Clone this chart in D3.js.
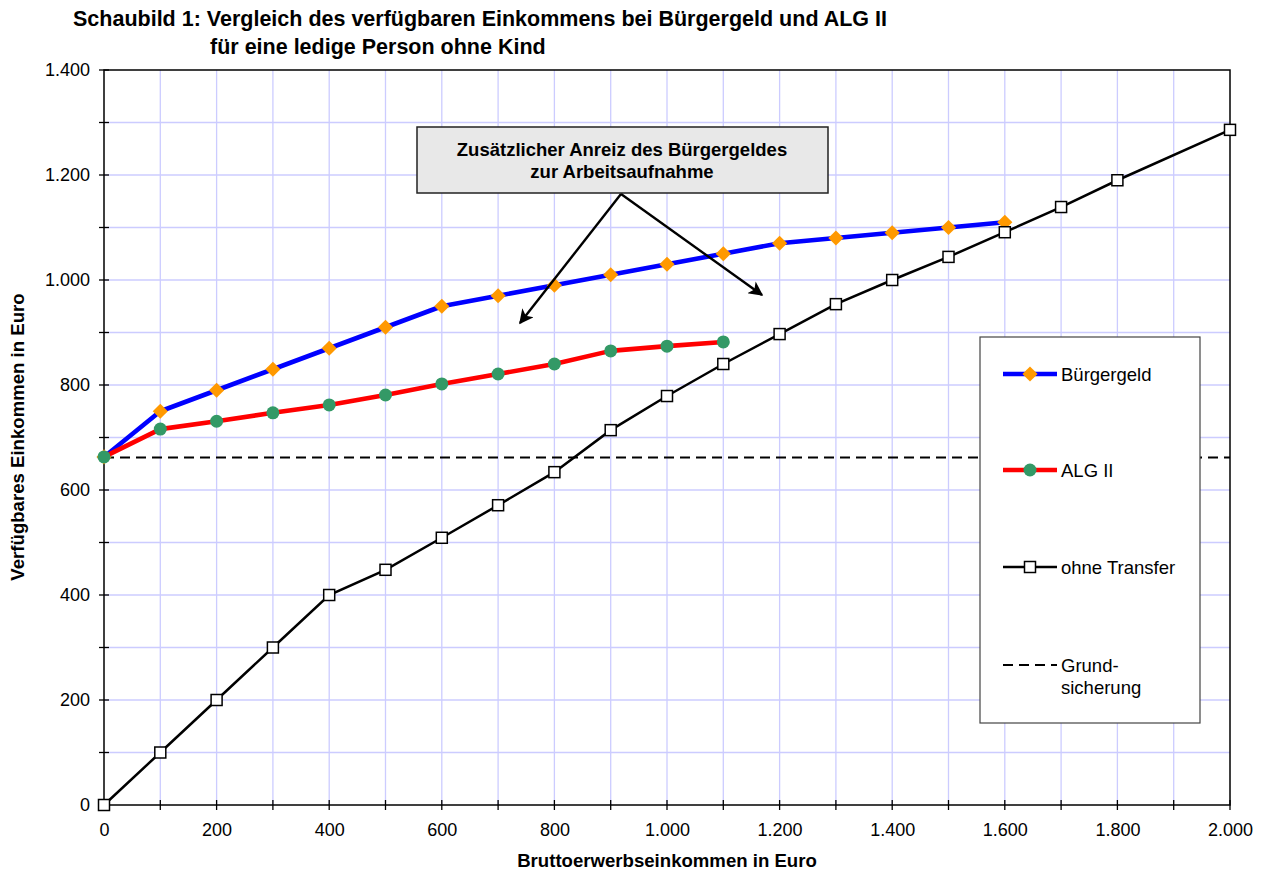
<!DOCTYPE html>
<html>
<head>
<meta charset="utf-8">
<script src="https://cdn.jsdelivr.net/npm/d3@7"></script>
<style>
  body { margin: 0; background: #fff; }
  svg { font-family: "Liberation Sans", Arial, sans-serif; }
</style>
</head>
<body>
<svg width="1266" height="872"></svg>
<script>
// data
const buergergeldX = [0, 100, 200, 300, 400, 500, 600, 700, 800, 900, 1000, 1100, 1200, 1300, 1400, 1500, 1600];
const buergergeldY = [663, 750, 790, 830, 870, 910, 950, 970, 990, 1010, 1030, 1050, 1070, 1080, 1090, 1100, 1110];
const algX = [0, 100, 200, 300, 400, 500, 600, 700, 800, 900, 1000, 1100];
const algY = [663, 716, 731, 747, 762, 781, 802, 821, 840, 865, 874, 882];
const ohneX = [0, 100, 200, 300, 400, 500, 600, 700, 800, 900, 1000, 1100, 1200, 1300, 1400, 1500, 1600, 1700, 1800, 2000];
const ohneY = [0, 100, 200, 300, 400, 448, 509, 571, 634, 714, 779, 840, 897, 954, 1000, 1044, 1091, 1139, 1190, 1286];
const grundsicherung = 662;
const xTicks = [0, 200, 400, 600, 800, 1000, 1200, 1400, 1600, 1800, 2000];
const yTicks = [0, 200, 400, 600, 800, 1000, 1200, 1400];

const svg = d3.select("svg");
const margin = {left: 104, right: 36, top: 70, bottom: 67};
const width = 1266, height = 872;

const de = d3.formatLocale({decimal: ",", thousands: ".", grouping: [3], currency: ["", " €"]});
const fmt = de.format(",d");

const x = d3.scaleLinear().domain([0, 2000]).range([margin.left, width - margin.right]);
const y = d3.scaleLinear().domain([0, 1400]).range([height - margin.bottom, margin.top]);

// gridlines
const grid = svg.append("g").attr("stroke", "#ccccff").attr("stroke-width", 1.3);
grid.selectAll(".gx").data(d3.range(100, 2000, 100)).join("line")
  .attr("x1", d => x(d)).attr("x2", d => x(d))
  .attr("y1", y(0)).attr("y2", y(1400));
grid.selectAll(".gy").data(d3.range(100, 1400, 100)).join("line")
  .attr("x1", x(0)).attr("x2", x(2000))
  .attr("y1", d => y(d)).attr("y2", d => y(d));

// plot frame
svg.append("rect")
  .attr("x", x(0)).attr("y", y(1400))
  .attr("width", x(2000) - x(0)).attr("height", y(0) - y(1400))
  .attr("fill", "none").attr("stroke", "#000").attr("stroke-width", 1.5);

// axes
const yAxis = svg.append("g").attr("transform", `translate(${x(0)},0)`)
  .call(d3.axisLeft(y).tickValues(yTicks).tickFormat(fmt).tickSize(0).tickPadding(14));
yAxis.select(".domain").remove();
yAxis.selectAll("text").attr("font-size", 18).attr("fill", "#000").attr("font-family", "Liberation Sans, Arial, sans-serif");

const xAxis = svg.append("g").attr("transform", `translate(0,${y(0)})`)
  .call(d3.axisBottom(x).tickValues(xTicks).tickFormat(fmt).tickSize(0).tickPadding(18));
xAxis.select(".domain").remove();
xAxis.selectAll("text").attr("font-size", 18).attr("fill", "#000").attr("font-family", "Liberation Sans, Arial, sans-serif");

// tick marks crossing the axes
svg.append("g").selectAll("line").data(d3.range(0, 1401, 100)).join("line")
  .attr("x1", x(0) - 5).attr("x2", x(0) + 5)
  .attr("y1", d => y(d)).attr("y2", d => y(d))
  .attr("stroke", "#000").attr("stroke-width", 1.3);
svg.append("g").selectAll("line").data(d3.range(0, 2001, 100)).join("line")
  .attr("x1", d => x(d)).attr("x2", d => x(d))
  .attr("y1", y(0) - 5).attr("y2", y(0) + 5)
  .attr("stroke", "#000").attr("stroke-width", 1.3);

// Grundsicherung dashed line
svg.append("line")
  .attr("x1", x(0)).attr("x2", x(2000))
  .attr("y1", y(grundsicherung)).attr("y2", y(grundsicherung))
  .attr("stroke", "#000").attr("stroke-width", 2).attr("stroke-dasharray", "10,6");

const line = d3.line().x(d => x(d[0])).y(d => y(d[1]));
const bData = d3.zip(buergergeldX, buergergeldY);
const aData = d3.zip(algX, algY);
const oData = d3.zip(ohneX, ohneY);

const diamond = d3.symbol().type(d3.symbolSquare).size(115);

// Buergergeld
svg.append("path").datum(bData).attr("d", line)
  .attr("fill", "none").attr("stroke", "#0000ff").attr("stroke-width", 4.6).attr("stroke-linejoin", "round");
svg.append("g").selectAll("path").data(bData).join("path")
  .attr("d", diamond)
  .attr("transform", d => `translate(${x(d[0])},${y(d[1])}) rotate(45)`)
  .attr("fill", "#ff9900");

// ALG II
svg.append("path").datum(aData).attr("d", line)
  .attr("fill", "none").attr("stroke", "#ff0000").attr("stroke-width", 4.6).attr("stroke-linejoin", "round");
svg.append("g").selectAll("circle").data(aData).join("circle")
  .attr("cx", d => x(d[0])).attr("cy", d => y(d[1])).attr("r", 6.5)
  .attr("fill", "#339966");

// ohne Transfer
svg.append("path").datum(oData).attr("d", line)
  .attr("fill", "none").attr("stroke", "#000").attr("stroke-width", 2.5);
svg.append("g").selectAll("rect").data(oData).join("rect")
  .attr("x", d => x(d[0]) - 5.5).attr("y", d => y(d[1]) - 5.5)
  .attr("width", 11).attr("height", 11)
  .attr("fill", "#fff").attr("stroke", "#000").attr("stroke-width", 1.5);

// legend
const lg = svg.append("g").attr("transform", "translate(980,337)");
lg.append("rect").attr("width", 220).attr("height", 386)
  .attr("fill", "#fff").attr("stroke", "#444").attr("stroke-width", 1.2);
const items = [
  {name: ["Bürgergeld"], y: 37, color: "#0000ff", w: 4.6, marker: "diamond"},
  {name: ["ALG II"], y: 133, color: "#ff0000", w: 4.6, marker: "circle"},
  {name: ["ohne Transfer"], y: 230, color: "#000", w: 2.5, marker: "square"},
  {name: ["Grund-", "sicherung"], y: 328, color: "#000", w: 2, marker: "dash"}
];
items.forEach(it => {
  const g = lg.append("g").attr("transform", `translate(0,${it.y})`);
  g.append("line").attr("x1", 23).attr("x2", 77)
    .attr("stroke", it.color).attr("stroke-width", it.w)
    .attr("stroke-dasharray", it.marker === "dash" ? "10,6" : null);
  if (it.marker === "diamond") {
    g.append("path").attr("d", diamond).attr("transform", "translate(50,0) rotate(45)").attr("fill", "#ff9900");
  } else if (it.marker === "circle") {
    g.append("circle").attr("cx", 50).attr("r", 6.5).attr("fill", "#339966");
  } else if (it.marker === "square") {
    g.append("rect").attr("x", 44.5).attr("y", -5.5).attr("width", 11).attr("height", 11)
      .attr("fill", "#fff").attr("stroke", "#000").attr("stroke-width", 1.5);
  }
  it.name.forEach((t, i) => {
    g.append("text").attr("x", 81).attr("y", 7 + i * 22).attr("font-size", 18.5).text(t);
  });
});

// annotation box with arrows
const ann = svg.append("g");
ann.append("rect").attr("x", 417).attr("y", 127).attr("width", 411).attr("height", 66)
  .attr("fill", "#e8e8e8").attr("stroke", "#222").attr("stroke-width", 1.5);
ann.append("text").attr("x", 622).attr("y", 156).attr("text-anchor", "middle")
  .attr("font-size", 18.5).attr("font-weight", "bold").text("Zusätzlicher Anreiz des Bürgergeldes");
ann.append("text").attr("x", 622).attr("y", 178).attr("text-anchor", "middle")
  .attr("font-size", 18.5).attr("font-weight", "bold").text("zur Arbeitsaufnahme");

svg.append("defs").append("marker").attr("id", "ah")
  .attr("viewBox", "0 0 10 10").attr("refX", 9).attr("refY", 5)
  .attr("markerWidth", 7.5).attr("markerHeight", 6).attr("markerUnits", "strokeWidth")
  .attr("orient", "auto")
  .append("path").attr("d", "M0,0 L10,5 L0,10 L2.5,5 Z").attr("fill", "#000");
[[520, 323], [762, 295]].forEach(p => {
  ann.append("line").attr("x1", 621).attr("y1", 194).attr("x2", p[0]).attr("y2", p[1])
    .attr("stroke", "#000").attr("stroke-width", 2.4).attr("marker-end", "url(#ah)");
});

// titles
svg.append("text").attr("x", 73).attr("y", 26).attr("font-size", 21.5).attr("font-weight", "bold")
  .text("Schaubild 1: Vergleich des verfügbaren Einkommens bei Bürgergeld und ALG II");
svg.append("text").attr("x", 210).attr("y", 54).attr("font-size", 21.5).attr("font-weight", "bold")
  .text("für eine ledige Person ohne Kind");
svg.append("text").attr("x", 667).attr("y", 867).attr("text-anchor", "middle")
  .attr("font-size", 18.6).attr("font-weight", "bold").text("Bruttoerwerbseinkommen in Euro");
svg.append("text").attr("transform", "translate(24,437) rotate(-90)").attr("text-anchor", "middle")
  .attr("font-size", 18.6).attr("font-weight", "bold").text("Verfügbares Einkommen in Euro");
</script>
</body>
</html>
